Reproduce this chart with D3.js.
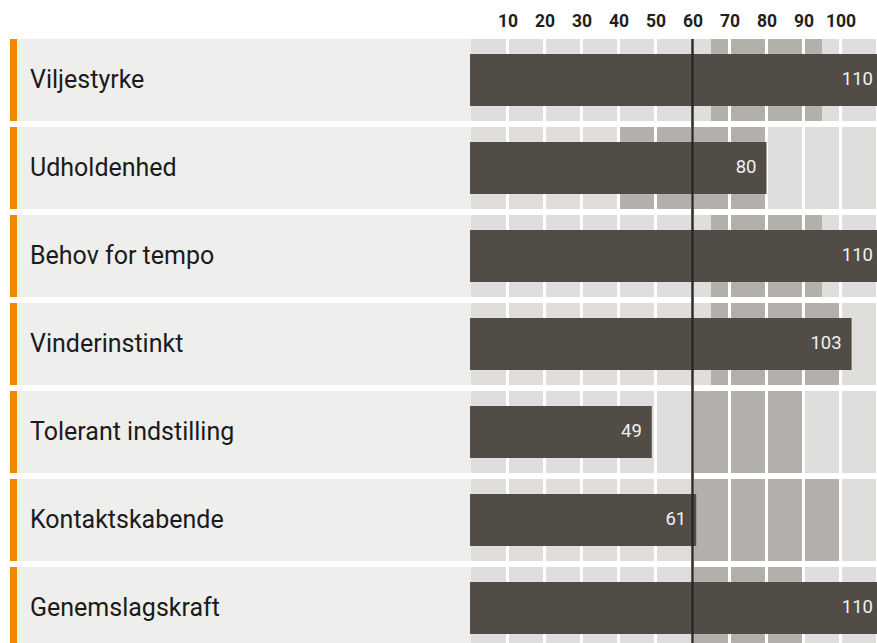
<!DOCTYPE html>
<html>
<head>
<meta charset="utf-8">
<script src="https://cdn.jsdelivr.net/npm/d3@7"></script>
<style>
  html, body { margin: 0; padding: 0; background: #ffffff; }
  svg { display: block; font-family: Roboto, "Noto Sans", sans-serif; }
</style>
</head>
<body>
<svg id="chart" width="877" height="643"></svg>
<script>
// ---- data ----
const categories = ["Viljestyrke", "Udholdenhed", "Behov for tempo", "Vinderinstinkt", "Tolerant indstilling", "Kontaktskabende", "Genemslagskraft"];
const values = [110, 80, 110, 103, 49, 61, 110];
const rangeLow = [65, 40, 65, 65, 60, 60, 60];
const rangeHigh = [95, 80, 95, 100, 90, 100, 90];
const tickValues = [10, 20, 30, 40, 50, 60, 70, 80, 90, 100];
const gridSteps = [0, 10, 20, 30, 40, 50, 60, 70, 80, 90, 100];
const referenceValue = 60;

// ---- layout ----
const W = 877, H = 643;
const rowTop = 39, rowPitch = 88, gap = 6, barH = 52;
const svg = d3.select("#chart");

const x = d3.scaleLinear().domain([0, 110]).range([470.5, 877.5]);
const y = d3.scaleBand().domain(categories)
  .range([rowTop, rowTop + rowPitch * categories.length - gap])
  .paddingInner(gap / rowPitch).paddingOuter(0).align(0);

const rows = svg.append("g").selectAll("g.row")
  .data(categories.map((c, i) => ({ c, v: values[i], lo: rangeLow[i], hi: rangeHigh[i] })))
  .join("g").attr("class", "row")
  .attr("transform", d => `translate(0,${y(d.c)})`);

const bh = y.bandwidth();

// label background
rows.append("rect").attr("x", 17).attr("y", 0).attr("width", x(0) - 17 + 1).attr("height", bh).attr("fill", "#eeeeec");
// orange marker
rows.append("rect").attr("x", 10).attr("y", 0).attr("width", 7).attr("height", bh).attr("fill", "#ef8a00");

// grid cells
rows.each(function (d) {
  const g = d3.select(this);
  gridSteps.forEach(s => {
    const x0 = s === 0 ? x(s) + 0.5 : x(s) + 1.5;
    const x1 = Math.min(x(s + 10) - 1.5, W);
    g.append("rect").attr("x", x0).attr("y", 0).attr("width", x1 - x0).attr("height", bh).attr("fill", "#dfdedc");
    const h0 = Math.max(x0, x(d.lo));
    const h1 = Math.min(x1, x(d.hi));
    if (h1 > h0) {
      g.append("rect").attr("x", h0).attr("y", 0).attr("width", h1 - h0).attr("height", bh).attr("fill", "#b3afab");
    }
  });
});

// reference line
svg.append("line")
  .attr("x1", x(referenceValue)).attr("x2", x(referenceValue))
  .attr("y1", rowTop).attr("y2", H)
  .attr("stroke", "#2c2926").attr("stroke-width", 2.5);

// bars
rows.append("rect")
  .attr("x", x(0) - 0.5)
  .attr("y", (bh - barH) / 2)
  .attr("width", d => x(d.v) - x(0) + 0.5)
  .attr("height", barH)
  .attr("fill", "#514c46");

// value labels
rows.append("text")
  .attr("x", d => x(d.v) >= W ? W - 4 : x(d.v) - 10)
  .attr("y", bh / 2)
  .attr("dy", "0.27em")
  .attr("text-anchor", "end")
  .attr("font-size", 18.5)
  .attr("fill", "#f2f1ef")
  .text(d => d.v);

// category labels
rows.append("text")
  .attr("x", 30)
  .attr("y", bh / 2)
  .attr("dy", "0.3em")
  .attr("font-size", 25)
  .attr("fill", "#1b1b1b")
  .text(d => d.c);

// top axis
const axis = d3.axisTop(x).tickValues(tickValues).tickSize(0).tickPadding(0);
const ag = svg.append("g").attr("transform", "translate(0,27)").call(axis);
ag.select(".domain").remove();
ag.selectAll("text")
  .attr("font-size", 17.5)
  .attr("font-weight", "bold")
  .attr("font-family", "Roboto, sans-serif")
  .attr("fill", "#1f1f1f")
  .attr("dy", 0);
</script>
</body>
</html>
